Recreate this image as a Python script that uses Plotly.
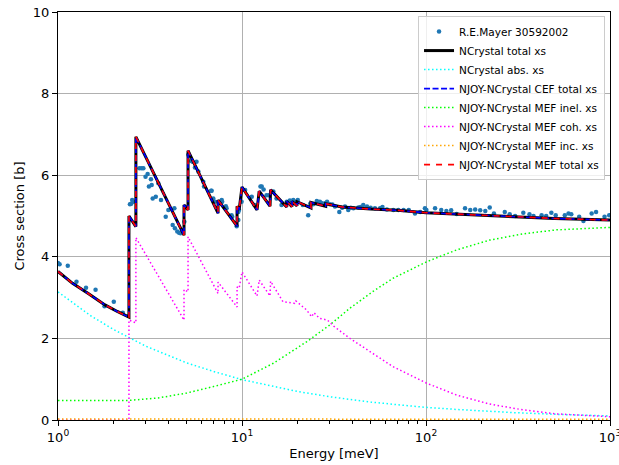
import plotly.graph_objects as go

# ---------------- data ----------------
# R.E.Mayer measured points (Energy meV, cross section b)
meas_E = [1.0, 1.02, 1.13, 1.26, 1.42, 1.6, 1.79, 2.01, 2.25,
          2.46, 2.5, 2.53, 2.56, 2.77, 2.85, 2.91, 2.99, 3.07, 3.12, 3.2, 3.23, 3.27,
          3.4, 3.51, 3.63, 3.85, 3.98, 4.2, 4.29, 4.32, 4.45, 4.55, 4.63, 4.86,
          5.11, 5.3, 5.39, 5.55, 5.66, 5.79, 6.16, 6.22, 6.79, 6.84, 6.98, 7.13,
          7.76, 7.8, 8.17, 8.24, 8.78, 8.85, 9.36, 9.55, 9.55, 9.63, 9.95,
          10.4, 11.3, 11.7, 12.6, 12.8, 13.1, 13.6, 14.0, 14.8, 15.4, 16.4, 17.5,
          18.2, 19.0, 19.5, 20.1, 21.4, 22.9, 23.5, 24.4, 25.5, 26.5, 27.0, 28.2,
          29.0, 30.0, 31.0, 32.0, 33.8, 35.0, 36.3, 37.8, 39.0, 40.3, 42.9, 44.0,
          45.6, 47.8, 50.0, 52.8, 56.3, 58.0, 61.3, 66.4, 70.8, 75.5, 80.6, 87.1,
          93.0, 98.7, 100.5, 112, 121, 129, 137, 146.8, 163, 174, 185, 197, 210,
          222, 234, 268, 285, 305, 338, 365, 384, 425, 450, 480, 507, 568, 595,
          616, 680, 717, 795, 840, 934, 990]
meas_xs = [3.85, 3.82, 3.78, 3.39, 3.24, 3.19, 2.79, 2.9, 2.63,
           5.29, 5.3, 5.39, 5.35, 6.17, 6.17, 6.17, 5.96, 6.03, 5.72, 5.9, 5.76, 5.43,
           5.47, 5.8, 5.39, 4.98, 5.15, 4.78, 5.19, 4.7, 4.62, 4.59, 4.58, 4.86,
           6.5, 6.35, 6.33, 6.19, 6.33, 6.09, 5.84, 5.72, 5.62, 5.62, 5.43, 5.35,
           5.39, 5.35, 5.24, 5.19, 5.02, 4.98, 4.75, 5.1, 4.9, 5.15, 5.35,
           5.64, 5.47, 5.27, 5.72, 5.72, 5.65, 5.51, 5.51, 5.6, 5.43, 5.27, 5.35,
           5.38, 5.39, 5.33, 5.39, 5.27, 5.02, 5.3, 5.29, 5.37, 5.35, 5.32, 5.31,
           5.35, 5.29, 5.28, 5.23, 5.1, 5.2, 5.23, 5.15, 5.2, 5.19, 5.21, 5.22,
           5.27, 5.23, 5.2, 5.19, 5.19, 5.22, 5.16, 5.15, 5.15, 5.15, 5.15, 5.06,
           5.1, 5.19, 5.15, 5.19, 5.15, 5.12, 5.14, 5.05, 5.19, 5.15, 5.16, 5.14, 5.12,
           5.21, 5.06, 5.1, 5.04, 5.0, 5.08, 5.04, 5.0, 5.02, 5.0, 5.08, 5.02, 5.02, 5.06,
           5.04, 4.98, 4.88, 5.06, 5.1, 4.98, 5.02]

# NCrystal total cross section (with Bragg edges)
tot_E = [1.0, 1.2, 1.46, 1.8, 2.1, 2.43, 2.43, 2.65, 2.65, 3.6, 4.84, 4.84, 5.09, 5.09,
         7.41, 7.41, 9.4, 9.4, 9.65, 10.0, 12.07, 12.4, 14.2, 14.3, 17.5, 17.5,
         18.7, 18.7, 19.9, 19.9, 23.7, 23.7, 28.5, 28.5, 35, 50, 70, 100, 200, 300, 500, 1000]
tot_xs = [3.64, 3.35, 3.1, 2.82, 2.66, 2.52, 5.0, 4.74, 6.94, 5.72, 4.53, 5.27, 5.15, 6.6,
          5.07, 5.39, 4.75, 5.24, 5.15, 5.71, 5.15, 5.61, 5.24, 5.64, 5.22, 5.36,
          5.23, 5.36, 5.25, 5.35, 5.2, 5.33, 5.24, 5.3, 5.22, 5.17, 5.14, 5.08, 5.02, 4.98, 4.94, 4.9]

# NCrystal absorption
abs_E = [1, 1.5, 2, 3, 5, 7, 10, 15, 20, 30, 50, 70, 100, 150, 200, 300, 500, 700, 1000]
abs_xs = [3.14, 2.56, 2.22, 1.81, 1.4, 1.19, 0.99, 0.81, 0.70, 0.57, 0.44, 0.375, 0.31,
          0.256, 0.222, 0.181, 0.14, 0.119, 0.099]

# MEF inelastic
inel_E = [1, 2, 2.43, 3.5, 5, 7, 10, 14.8, 22.5, 30, 38.6, 51.5, 66, 101, 147, 222, 335, 512, 1000]
inel_xs = [0.48, 0.47, 0.48, 0.54, 0.66, 0.82, 1.0, 1.39, 1.92, 2.33, 2.74, 3.15, 3.47, 3.88,
           4.17, 4.41, 4.56, 4.66, 4.72]

# MEF coherent elastic
coh_E = [1.0, 2.43, 2.43, 2.65, 2.65, 4.84, 4.84, 5.09, 5.09, 7.41, 7.41, 9.4, 9.4, 9.65, 10.0,
         12.07, 12.4, 14.2, 14.3, 16.7, 19.3, 19.6, 22.4, 23.9, 24.6, 26.4, 29.1, 31.5,
         38.6, 51.5, 66, 101, 147, 222, 335, 512, 1000]
coh_xs = [0.0, 0.0, 2.45, 2.38, 4.47, 2.45, 3.2, 3.14, 4.49, 3.1, 3.38, 2.77, 3.26, 3.23, 3.63,
          3.04, 3.43, 3.04, 3.4, 2.9, 2.86, 2.92, 2.7, 2.53, 2.63, 2.49, 2.45, 2.3,
          2.0, 1.63, 1.31, 0.9, 0.61, 0.39, 0.25, 0.15, 0.08]

# MEF incoherent elastic
inc_E = [1, 10, 100, 1000]
inc_xs = [0.025, 0.022, 0.02, 0.018]

x_tickvals = [1, 10, 100, 1000]
x_ticktext = ["10<sup>0</sup>", "10<sup>1</sup>", "10<sup>2</sup>", "10<sup>3</sup>"]
y_tickvals = [0, 2, 4, 6, 8, 10]

# ---------------- figure ----------------
DOT = "1.5px,2.5px"
fig = go.Figure()
fig.add_trace(go.Scatter(x=meas_E, y=meas_xs, mode="markers", name="R.E.Mayer 30592002",
                         marker=dict(color="#1f77b4", size=4.5)))
fig.add_trace(go.Scatter(x=tot_E, y=tot_xs, mode="lines", name="NCrystal total xs",
                         line=dict(color="black", width=3)))
fig.add_trace(go.Scatter(x=abs_E, y=abs_xs, mode="lines", name="NCrystal abs. xs",
                         line=dict(color="#00ffff", width=1.5, dash=DOT)))
fig.add_trace(go.Scatter(x=tot_E, y=tot_xs, mode="lines", name="NJOY-NCrystal CEF total xs",
                         line=dict(color="#0000ff", width=1.6, dash="6px,2.5px")))
fig.add_trace(go.Scatter(x=inel_E, y=inel_xs, mode="lines", name="NJOY-NCrystal MEF inel. xs",
                         line=dict(color="#00ff00", width=1.5, dash=DOT)))
fig.add_trace(go.Scatter(x=coh_E, y=coh_xs, mode="lines", name="NJOY-NCrystal MEF coh. xs",
                         line=dict(color="#ff00ff", width=1.5, dash=DOT)))
fig.add_trace(go.Scatter(x=inc_E, y=inc_xs, mode="lines", name="NJOY-NCrystal MEF inc. xs",
                         line=dict(color="#ffa500", width=1.5, dash=DOT)))
fig.add_trace(go.Scatter(x=tot_E, y=tot_xs, mode="lines", name="NJOY-NCrystal MEF total xs",
                         line=dict(color="#ff0000", width=1.6, dash="6px,6px")))

axis_font = dict(family="DejaVu Sans", size=13, color="black")
fig.update_layout(
    width=619, height=465,
    margin=dict(l=58, r=9, t=12, b=45),
    paper_bgcolor="white", plot_bgcolor="white",
    font=axis_font,
    showlegend=True,
    legend=dict(x=0.991, y=0.99, xanchor="right", yanchor="top",
                bgcolor="rgba(255,255,255,0.8)", bordercolor="#cccccc", borderwidth=1,
                font=dict(family="DejaVu Sans", size=10.5, color="black"),
                itemwidth=30, tracegroupgap=0),
    xaxis=dict(type="log", range=[0, 3], tickvals=x_tickvals, ticktext=x_ticktext,
               ticks="outside", ticklen=5, tickwidth=1, tickcolor="black",
               ticklabeloverflow="allow",
               showline=True, linecolor="black", linewidth=1, mirror=True,
               showgrid=True, gridcolor="#b0b0b0", gridwidth=1, zeroline=False,
               automargin=False,
               title=dict(text="Energy [meV]", font=axis_font, standoff=5),
               minor=dict(ticks="outside", ticklen=3, tickcolor="black", showgrid=False,
                          dtick="D1")),
    yaxis=dict(range=[0, 10], tickvals=y_tickvals,
               ticks="outside", ticklen=5, tickwidth=1, tickcolor="black",
               showline=True, linecolor="black", linewidth=1, mirror=True,
               showgrid=True, gridcolor="#b0b0b0", gridwidth=1, zeroline=False,
               automargin=False,
               title=dict(text="Cross section [b]", font=axis_font, standoff=5)),
)

fig.write_html("out.html")
